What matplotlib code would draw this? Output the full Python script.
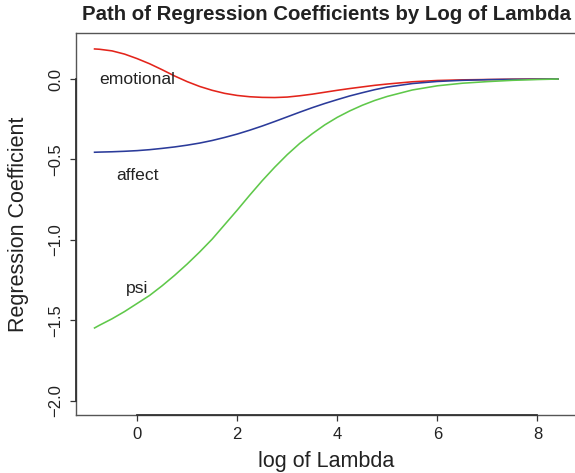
import numpy as np
import matplotlib
matplotlib.use("Agg")
import matplotlib.pyplot as plt

plt.rcParams["font.family"] = ["Liberation Sans", "DejaVu Sans"]

# log(lambda) grid and coefficient paths
logLambda = [-0.85, -0.75, -0.5, -0.25, 0.0, 0.25, 0.5, 0.75, 1.0, 1.25, 1.5, 1.75,
             2.0, 2.25, 2.5, 2.75, 3.0, 3.25, 3.5, 3.75, 4.0, 4.25, 4.5, 4.75,
             5.0, 5.5, 6.0, 6.5, 7.0, 7.5, 8.0, 8.41]
emotional = [0.187, 0.185, 0.175, 0.155, 0.127, 0.095, 0.058, 0.019, -0.016, -0.046,
             -0.07, -0.089, -0.102, -0.11, -0.114, -0.115, -0.112, -0.104, -0.094,
             -0.082, -0.07, -0.059, -0.049, -0.039, -0.031, -0.017, -0.009, -0.005,
             -0.003, -0.001, 0.0, 0.0]
affect = [-0.455, -0.454, -0.452, -0.449, -0.445, -0.439, -0.431, -0.422, -0.411,
          -0.398, -0.382, -0.363, -0.342, -0.318, -0.292, -0.264, -0.235, -0.206,
          -0.178, -0.152, -0.128, -0.105, -0.085, -0.066, -0.05, -0.028, -0.015,
          -0.008, -0.004, -0.002, -0.001, 0.0]
psi = [-1.547, -1.53, -1.49, -1.445, -1.395, -1.345, -1.285, -1.22, -1.15, -1.075,
       -0.995, -0.905, -0.815, -0.722, -0.632, -0.548, -0.47, -0.4, -0.34, -0.285,
       -0.238, -0.198, -0.163, -0.133, -0.108, -0.068, -0.042, -0.026, -0.016,
       -0.008, -0.003, 0.0]

seriesNames = ["emotional", "affect", "psi"]
labelY = [0.0, -0.6, -1.3]
colors = ["#e3241b", "#2b3b9a", "#5fc84a"]

xTicks = [0, 2, 4, 6, 8]
yTicks = [-2.0, -1.5, -1.0, -0.5, 0.0]

W, H = 575, 473
fig = plt.figure(figsize=(W / 100, H / 100), dpi=100)
left, right, top, bottom = 76, 576.5, 32.7, 415
ax = fig.add_axes([left / W, 1 - bottom / H, (right - left) / W, (bottom - top) / H])

for vals, col in zip([emotional, affect, psi], colors):
    ax.plot(logLambda, vals, color=col, lw=1.15, solid_joinstyle="round")

for name, yy in zip(seriesNames, labelY):
    ax.text(0, yy, name, ha="center", va="center", fontsize=12.6, color="#222222")

# R style 4% padding
xmin, xmax = min(logLambda), max(logLambda)
px = (xmax - xmin) * 0.04
ax.set_xlim(xmin - px, xmax + px)
py = (0.2 - -2.0) * 0.04
ax.set_ylim(-2.0 - py, 0.2 + py)

ax.set_xticks(xTicks)
ax.set_xticklabels([str(t) for t in xTicks])
ax.set_yticks(yTicks)
ax.set_yticklabels(["\u22122.0", "\u22121.5", "\u22121.0", "\u22120.5", "0.0"],
                   rotation=90, va="center")
ax.tick_params(direction="out", length=4.3, width=0.9, colors="#333333",
               labelcolor="#222222", labelsize=12, pad=4)
ax.tick_params(axis="y", pad=5)
for s in ax.spines.values():
    s.set_color("#555555")
    s.set_linewidth(1.0)

# axis lines spanning the tick range, as R draws them
ax.plot([xTicks[0], xTicks[-1]], [-2.0 - py] * 2, color="#333333", lw=1.3,
        clip_on=False, zorder=5)
ax.plot([xmin - px] * 2, [yTicks[0], yTicks[-1]], color="#333333", lw=1.3,
        clip_on=False, zorder=5)

cx = (76 + 576) / 2 / W
fig.text(cx, 1 - 15 / H, "Path of Regression Coefficients by Log of Lambda",
         ha="center", va="center", fontsize=14.7, fontweight="bold", color="#222222")
fig.text(cx, 1 - 461 / H, "log of Lambda", ha="center", va="center",
         fontsize=15.5, color="#222222")
fig.text(18.4 / W, 1 - (top + bottom) / 2 / H, "Regression Coefficient", ha="center",
         va="center", rotation=90, fontsize=15.5, color="#222222")

fig.savefig("out.png", dpi=100)
